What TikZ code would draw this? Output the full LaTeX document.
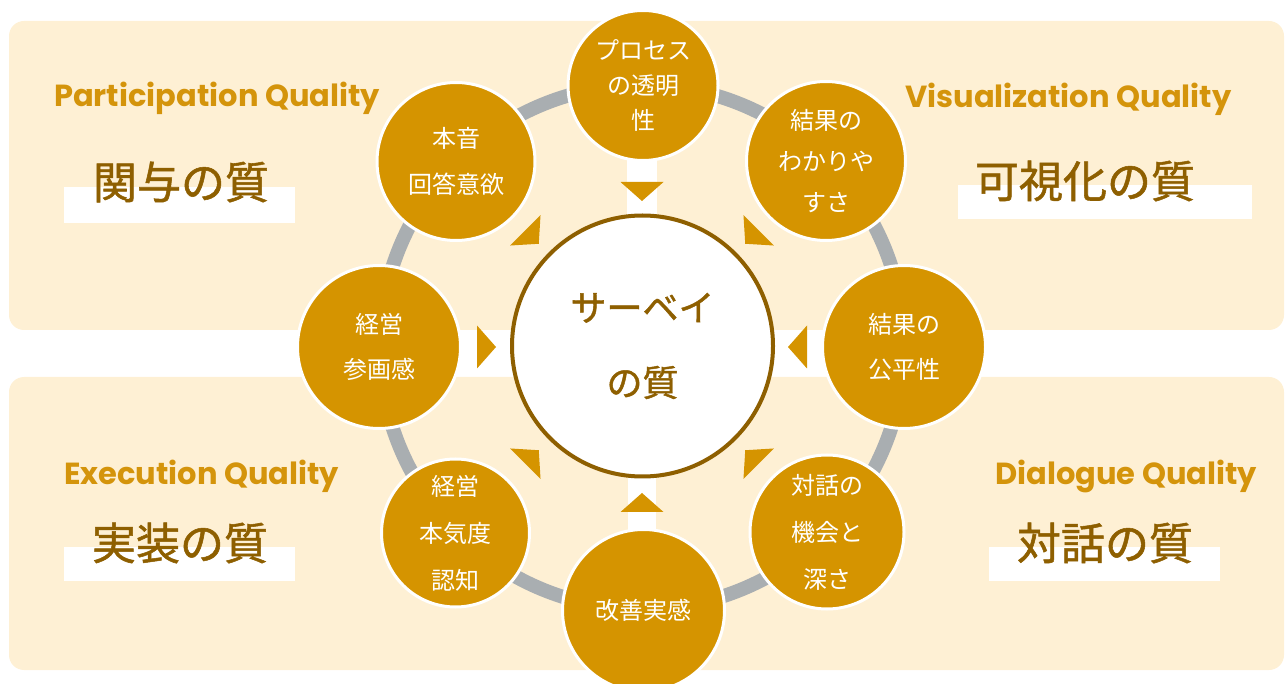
\documentclass[tikz,border=0pt]{standalone}
\usepackage{fontspec}
\newfontfamily\jp{Noto Sans CJK JP}
\newfontfamily\jpm{Noto Sans CJK JP}[FakeBold=1.2]
\newfontfamily\en{Poppins}
\usetikzlibrary{calc}
\definecolor{gold}{HTML}{D59400}
\definecolor{panel}{HTML}{FEF0D4}
\definecolor{darkbrown}{HTML}{8E5F00}
\definecolor{engold}{HTML}{D4940B}
\definecolor{ringgray}{HTML}{A9AEB1}
\begin{document}
\begin{tikzpicture}[x=1pt,y=-1pt,
  panelbox/.style={fill=panel, rounded corners=15pt},
  whitebar/.style={fill=white},
  outer/.style={circle, fill=gold, draw=white, line width=3pt, inner sep=0pt, text=white, align=center},
  hub/.style={circle, fill=white, draw=darkbrown, line width=4pt, minimum size=261pt, inner sep=0pt, text=darkbrown, align=center, font=\jpm\fontsize{36}{75}\selectfont},
  entitle/.style={anchor=base west, text=engold, font=\en\bfseries\fontsize{30.5}{33}\selectfont, inner sep=0pt},
  jptitle/.style={text=darkbrown, font=\jpm\fontsize{44}{50}\selectfont, inner sep=0pt},
  ring/.style={draw=ringgray, line width=14pt},
  tri/.style={fill=gold}
]
\useasboundingbox (0,0) rectangle (1286,684);
% panels
\fill[panelbox] (9,21) rectangle (1284,330);
\fill[panelbox] (9,377) rectangle (1284,670);
% white bars
\fill[whitebar] (627,150) rectangle (657,230);
\fill[whitebar] (628,465) rectangle (656,540);
\fill[whitebar] (64,187) rectangle (295,223);
\fill[whitebar] (958,185) rectangle (1252,219);
\fill[whitebar] (64,547) rectangle (295,581);
\fill[whitebar] (989,547) rectangle (1220,581);
% titles
\node[entitle] (t1) at (54,107) {Participation Quality};
\node[entitle] (t2) at (905,108) {Visualization Quality};
\node[entitle] (t3) at (64,485) {Execution Quality};
\node[entitle] (t4) at (995,485) {Dialogue Quality};
\node[jptitle] (j1) at (181,182) {関与の質};
\node[jptitle] (j2) at (1085,181) {可視化の質};
\node[jptitle] (j3) at (180,543) {実装の質};
\node[jptitle] (j4) at (1105,543) {対話の質};
% ring
\coordinate (R) at (642,347);
\draw[ring] (R) circle[radius=262];
% triangles
\foreach \a in {0,45,...,315}{
  \begin{scope}[shift={(R)}, rotate=\a]
    \fill[tri] (146,0) -- (165,21.5) -- (165,-21.5) -- cycle;
  \end{scope}
}
% hub
\node[hub] (hub) at (642.5,346) {サーベイ\\の質};
% outer circles
\node[outer, minimum size=150pt, font=\jp\fontsize{24}{35}\selectfont] (n1) at (643,85.5) {プロセス\\の透明\\性};
\node[outer, minimum size=159pt, font=\jp\fontsize{24}{41}\selectfont] (n2) at (826,161) {結果の\\わかりや\\すさ};
\node[outer, minimum size=163pt, font=\jp\fontsize{24}{45}\selectfont] (n3) at (904,347) {結果の\\公平性};
\node[outer, minimum size=154pt, font=\jp\fontsize{24}{47}\selectfont] (n4) at (827,532) {対話の\\機会と\\深さ};
\node[outer, minimum size=162pt, font=\jp\fontsize{24}{30}\selectfont] (n5) at (643.5,610.5) {改善実感};
\node[outer, minimum size=148pt, font=\jp\fontsize{24}{47}\selectfont] (n6) at (455.5,533) {経営\\本気度\\認知};
\node[outer, minimum size=163pt, font=\jp\fontsize{24}{45}\selectfont] (n7) at (379,347) {経営\\参画感};
\node[outer, minimum size=158pt, font=\jp\fontsize{24}{46}\selectfont] (n8) at (456,161.5) {本音\\回答意欲};
\end{tikzpicture}
\end{document}
